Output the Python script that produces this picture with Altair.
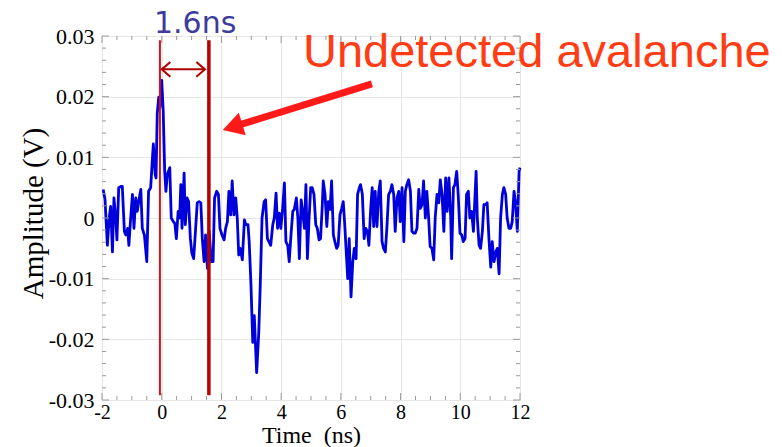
import altair as alt
import pandas as pd

# ---------------- waveform (time in ns, amplitude in V) ----------------
t_seg1 = [-1.96, -1.90, -1.82, -1.76, -1.71, -1.65, -1.60, -1.54, -1.50, -1.44,
          -1.37, -1.32, -1.25, -1.20, -1.14, -1.10, -1.04, -0.98, -0.93, -0.87,
          -0.82, -0.76, -0.70, -0.65, -0.58, -0.50, -0.44, -0.37, -0.31, -0.28,
          -0.22, -0.19, -0.15, -0.10, -0.06, 0.00, 0.05, 0.10, 0.14, 0.19]
a_seg1 = [0.0047, 0.0031, -0.0045, 0, 0.0019, -0.0056, 0.0033, 0, -0.0036, 0.005,
          0.0052, 0.0052, -0.0022, -0.0028, -0.0017, -0.0045, 0, 0.0039, -0.0017, 0.0033,
          0.0011, 0.003, 0.0047, -0.0017, -0.0028, -0.0072, 0.0044, 0.005, 0.0099, 0.0122,
          0.0072, 0.0066, 0.0172, 0.0199, 0.0182, 0.0227, 0.0177, 0.0077, 0.0044, 0.0072]

t_seg2 = [0.27, 0.32, 0.39, 0.44, 0.49, 0.55, 0.60, 0.64, 0.68, 0.75,
          0.79, 0.85, 0.90, 0.96, 1.01, 1.07, 1.13, 1.19, 1.25, 1.31,
          1.36, 1.42, 1.47, 1.53, 1.59, 1.66, 1.72, 1.77, 1.84, 1.90,
          1.95, 2.02, 2.09, 2.14, 2.20, 2.25, 2.31, 2.36, 2.42, 2.48, 2.53]
a_seg2 = [0.0083, 0, -0.0006, -0.0009, -0.0034, 0.0011, 0, 0.0055, -0.0017, 0.0074,
          -0.0011, 0.0033, 0.0027, -0.0034, -0.0058, -0.0067, -0.0022, 0.0025, 0.0027, 0.0025,
          -0.0034, -0.0072, -0.0028, -0.0083, -0.0022, -0.0072, -0.0072, 0.0033, 0.0044, 0.0039,
          -0.0017, -0.0028, -0.0036, -0.0017, -0.0006, 0.0044, 0.0005, 0.0061, 0.0005, 0.0033, 0]

t_seg3 = [2.58, 2.63, 2.70, 2.77, 2.82, 2.89, 2.93, 2.99, 3.05, 3.10,
          3.18, 3.25, 3.30, 3.36, 3.43, 3.48, 3.54, 3.59, 3.65, 3.72,
          3.77, 3.83, 3.88, 3.94, 3.99, 4.05, 4.11, 4.16, 4.22, 4.27,
          4.33, 4.39, 4.44, 4.51, 4.56, 4.61, 4.67, 4.72, 4.78]
a_seg3 = [-0.0061, -0.005, -0.0069, -0.0003, -0.0011, -0.0011, -0.0039, -0.0111, -0.0205, -0.0161,
          -0.0255, -0.0189, -0.0111, 0, 0.0027, 0.003, -0.0034, -0.0039, -0.0045, -0.0011,
          0, 0.0041, -0.0017, 0.0008, -0.0017, 0.0016, 0.0058, -0.0039, -0.0045, -0.0072,
          -0.0028, 0.0011, 0.0014, 0.0033, 0, -0.0067, 0.003, 0.0011, -0.0017]

t_seg4 = [4.83, 4.88, 4.93, 4.99, 5.04, 5.10, 5.16, 5.21, 5.27, 5.32,
          5.38, 5.41, 5.47, 5.53, 5.58, 5.64, 5.69, 5.75, 5.80, 5.86,
          5.91, 5.97, 6.03, 6.08, 6.13, 6.18, 6.23, 6.28, 6.34, 6.40,
          6.45, 6.51, 6.56, 6.62, 6.66, 6.72, 6.78, 6.83, 6.89, 6.94, 7.00, 7.05]
a_seg4 = [0.0055, -0.0067, -0.0006, 0.005, 0.005, 0.0039, -0.0011, -0.0017, -0.0036, -0.0034,
          0.0022, 0.0061, 0.0039, -0.0014, 0.0027, 0.0014, 0.0061, -0.0028, -0.0039, -0.005,
          -0.0045, 0.0005, 0.0016, 0.0027, -0.0011, -0.0056, -0.01, -0.0034, -0.013, -0.0072,
          -0.005, -0.0067, 0.0039, 0.005, 0.0055, 0.0039, -0.0034, -0.0017, -0.0022, -0.0045,
          0.0016, 0.005]

t_seg5 = [7.10, 7.15, 7.21, 7.27, 7.32, 7.38, 7.43, 7.49, 7.54, 7.60,
          7.66, 7.71, 7.77, 7.82, 7.88, 7.94, 7.99, 8.05, 8.11, 8.16,
          8.21, 8.27, 8.33, 8.38, 8.44, 8.49, 8.55, 8.61, 8.66, 8.72,
          8.77, 8.83, 8.88, 8.94, 8.99, 9.05, 9.11, 9.16, 9.22, 9.28, 9.33, 9.39, 9.45]
a_seg5 = [-0.0014, 0.0044, -0.0014, 0.0044, 0.0061, -0.0039, -0.005, -0.0056, -0.0017, 0.0039,
          0.0044, 0.0055, 0.0039, -0.0022, 0.0033, 0.0044, -0.0006, 0.005, -0.0039, 0.0044,
          0.0055, 0.0063, 0.0044, -0.0022, -0.0025, -0.0025, -0.0017, 0.0047, 0.0016, 0.0022,
          0.0061, 0, 0.0044, 0, -0.0047, -0.005, -0.0069, 0, 0.0039, 0.0025, 0.0063, 0.0039, -0.0022]

t_seg6 = [9.51, 9.56, 9.62, 9.68, 9.71, 9.77, 9.82, 9.88, 9.93, 9.99,
          10.05, 10.10, 10.16, 10.21, 10.27, 10.32, 10.38, 10.44, 10.49, 10.53,
          10.57, 10.63, 10.68, 10.74, 10.79, 10.85, 10.90, 10.96, 11.02, 11.07,
          11.13, 11.19, 11.24, 11.30, 11.35, 11.41, 11.46, 11.52, 11.57, 11.63,
          11.69, 11.74, 11.80, 11.85, 11.91, 11.97, 12.0]
a_seg6 = [0.0066, 0.0011, 0.0066, 0, -0.0067, 0.005, 0.0055, 0.0077, 0.0039, -0.0025,
          -0.0028, -0.0039, -0.0034, 0.0039, 0.0044, 0, 0.0011, -0.0022, 0.0033, 0.0077,
          0, -0.0045, -0.005, -0.0022, 0.0022, 0.0022, 0.0025, -0.0034, -0.0081, -0.0039,
          -0.0072, -0.0056, -0.005, -0.0092, 0, 0.0039, 0.005, 0.0039, 0, -0.0017,
          -0.0017, -0.0006, 0.0044, 0.0027, -0.0022, 0.0077, 0.0083]

time_ns = t_seg1 + t_seg2 + t_seg3 + t_seg4 + t_seg5 + t_seg6
amp_v = a_seg1 + a_seg2 + a_seg3 + a_seg4 + a_seg5 + a_seg6

# ---------------- axes ticks ----------------
x_major = [-2, 0, 2, 4, 6, 8, 10, 12]
x_minor = [-1.5, -1, -0.5, 0.5, 1, 1.5, 2.5, 3, 3.5, 4.5, 5, 5.5, 6.5, 7, 7.5,
           8.5, 9, 9.5, 10.5, 11, 11.5]
y_major = [-0.03, -0.02, -0.01, 0, 0.01, 0.02, 0.03]
y_minor = [-0.028, -0.026, -0.024, -0.022, -0.018, -0.016, -0.014, -0.012,
           -0.008, -0.006, -0.004, -0.002, 0.002, 0.004, 0.006, 0.008,
           0.012, 0.014, 0.016, 0.018, 0.022, 0.024, 0.026, 0.028]

# ---------------- annotations ----------------
marker_t = [-0.06, 1.58]
marker_top = [0.0293, 0.0293]
marker_bottom = [-0.0292, -0.0292]

span_label = ["1.6ns"]
span_label_t = [1.12]
span_label_a = [0.0305]

# double-headed arrow between the markers (polyline pieces)
dbl_t = [0.0, 1.45, 0.29, 0.0, 0.29, 1.16, 1.45, 1.16]
dbl_a = [0.0245, 0.0245, 0.0257, 0.0245, 0.0233, 0.0257, 0.0245, 0.0233]
dbl_grp = ["shaft", "shaft", "left", "left", "left", "right", "right", "right"]

note_text = ["Undetected avalanche"]
note_t = [4.73]
note_a = [0.0249]

arrow_t = [7.04, 2.37]
arrow_a = [0.0221, 0.0150]
head_t = [2.37]
head_a = [0.0150]

W, H = 418, 364
TICK = "#9a9a9a"
SERIF = "Liberation Serif"

xs = alt.Scale(domain=[-2, 12], nice=False, zero=False)
ys = alt.Scale(domain=[-0.03, 0.03], nice=False, zero=False)

x_axis = alt.Axis(
    values=x_major, grid=True, gridColor="#e6e6e6", ticks=False, domain=False,
    labelFont=SERIF, labelFontSize=20, labelColor="black", labelPadding=2,
    labelFlush=False, labelOverlap=False,
    labelExpr="datum.value < 0 ? '-' + format(-datum.value, 'd') : format(datum.value, 'd')",
    title="Time\u00a0\u00a0(ns)", titleFont=SERIF, titleFontSize=24,
    titleFontWeight="normal", titleColor="black", titleBaseline="alphabetic", titleY=42,
)
y_axis = alt.Axis(
    values=y_major, grid=True, gridColor="#e6e6e6", ticks=False, domain=False,
    labelFont=SERIF, labelFontSize=22, labelColor="black", labelPadding=8,
    labelFlush=False, labelOverlap=False,
    labelExpr="datum.value == 0 ? '0' : (datum.value < 0 ? '-' + format(-datum.value, '.2f') : format(datum.value, '.2f'))",
    title="Amplitude (V)", titleFont=SERIF, titleFontSize=29, titleFontWeight="normal",
    titleColor="black", titleAngle=270, titleBaseline="alphabetic", titleX=-60, titleY=177,
)

df = pd.DataFrame({"t": time_ns, "a": amp_v})

signal = alt.Chart(df).mark_line(color="#0000dd", strokeWidth=2.8, interpolate="linear",
                                 strokeJoin="round").encode(
    x=alt.X("t:Q", scale=xs, axis=x_axis),
    y=alt.Y("a:Q", scale=ys, axis=y_axis),
    order=alt.Order("t:Q"),
)


def xticks(vals, length, top):
    d = pd.DataFrame({"t": vals})
    return alt.Chart(d).mark_rule(color=TICK, strokeWidth=1).encode(
        x=alt.X("t:Q", scale=xs),
        y=alt.value(0 if top else H),
        y2=alt.value(length if top else H - length),
    )


def yticks(vals, length, right):
    d = pd.DataFrame({"a": vals})
    return alt.Chart(d).mark_rule(color=TICK, strokeWidth=1).encode(
        y=alt.Y("a:Q", scale=ys),
        x=alt.value(W if right else 0),
        x2=alt.value(W - length if right else length),
    )


ticks = [
    xticks(x_major, 7, False), xticks(x_minor, 4, False),
    xticks(x_major, 7, True), xticks(x_minor, 4, True),
    yticks(y_major, 7, False), yticks(y_minor, 4, False),
    yticks(y_major, 7, True), yticks(y_minor, 4, True),
]

mk = pd.DataFrame({"t": marker_t, "a": marker_top, "a2": marker_bottom})
marker1 = alt.Chart(mk.iloc[[0]]).mark_rule(color="#d41414", strokeWidth=2).encode(
    x=alt.X("t:Q", scale=xs), y=alt.Y("a:Q", scale=ys), y2="a2:Q")
marker2 = alt.Chart(mk.iloc[[1]]).mark_rule(color="#b80000", strokeWidth=3.5).encode(
    x=alt.X("t:Q", scale=xs), y=alt.Y("a:Q", scale=ys), y2="a2:Q")

dbl_df = pd.DataFrame({"t": dbl_t, "a": dbl_a, "g": dbl_grp, "i": list(range(len(dbl_t)))})
dbl = alt.Chart(dbl_df).mark_line(color="#b00000", strokeWidth=2).encode(
    x=alt.X("t:Q", scale=xs), y=alt.Y("a:Q", scale=ys), detail="g:N", order="i:Q")

span_txt = alt.Chart(pd.DataFrame({"t": span_label_t, "a": span_label_a, "s": span_label})).mark_text(
    font="DejaVu Sans", fontSize=30, color="#3c3c9c", align="center", baseline="alphabetic"
).encode(x=alt.X("t:Q", scale=xs), y=alt.Y("a:Q", scale=ys), text="s:N")

note = alt.Chart(pd.DataFrame({"t": note_t, "a": note_a, "s": note_text})).mark_text(
    font="Liberation Sans", fontSize=47, color="#ff3c14", align="left", baseline="alphabetic"
).encode(x=alt.X("t:Q", scale=xs), y=alt.Y("a:Q", scale=ys), text="s:N")

arrow_df = pd.DataFrame({"t": arrow_t, "a": arrow_a, "i": [0, 1]})
arrow = alt.Chart(arrow_df).mark_line(color="#ff1a1a", strokeWidth=7, strokeCap="butt").encode(
    x=alt.X("t:Q", scale=xs), y=alt.Y("a:Q", scale=ys), order="i:Q")
head = alt.Chart(pd.DataFrame({"t": head_t, "a": head_a})).mark_point(
    shape="triangle-up", filled=True, color="#ff1a1a", opacity=1, size=560, angle=253
).encode(x=alt.X("t:Q", scale=xs), y=alt.Y("a:Q", scale=ys))

chart = alt.layer(
    signal, *ticks, marker1, marker2, dbl, span_txt, note, arrow, head
).properties(
    width=W, height=H,
    padding={"left": 102, "top": 36, "right": 262, "bottom": 47},
    autosize=alt.AutoSizeParams(type="none"),
    background="white",
).configure_view(stroke="#9a9a9a", strokeWidth=1)

chart.save("out.html", embed_options={"renderer": "svg", "actions": False})
